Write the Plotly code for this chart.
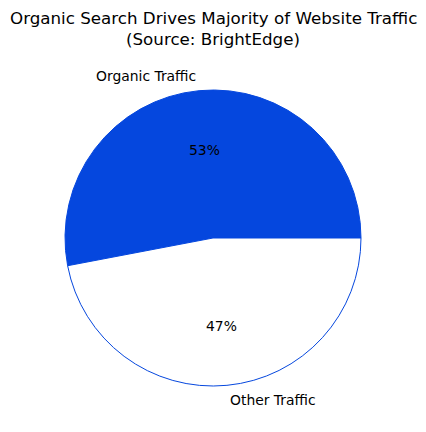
import numpy as np
import plotly.graph_objects as go

# data
labels = ["Organic Traffic", "Other Traffic"]
shares = [53, 47]
colors = ["#0547DE", "#FFFFFF"]
edge_color = "#0547DE"
title_lines = ["Organic Search Drives Majority of Website Traffic", "(Source: BrightEdge)"]

W, H = 426, 432
cx, cy, r = 213, 238, 148   # pie centre / radius in pixels

total = sum(shares)
# plotly's counterclockwise pie ends the first slice at `rotation`,
# so shift it to make the first slice start at 3 o'clock like matplotlib
rot = 90 - 360 * shares[0] / total

fig = go.Figure(go.Pie(
    labels=labels,
    values=shares,
    sort=False,
    direction="counterclockwise",
    rotation=rot,
    marker=dict(colors=colors, line=dict(color=edge_color, width=1)),
    textinfo="none",
    hoverinfo="label+percent",
    showlegend=False,
    domain=dict(x=[(cx - r) / W, (cx + r) / W],
                y=[1 - (cy + r) / H, 1 - (cy - r) / H]),
))

# labels and percentages, placed like matplotlib (1.1 and 0.6 radius)
start = 0.0
annotations = []
for lab, v in zip(labels, shares):
    theta = np.deg2rad(start + 360 * v / total / 2)
    start += 360 * v / total
    dx, dy = np.cos(theta), np.sin(theta)
    annotations.append(dict(
        x=(cx + 1.1 * r * dx) / W, y=1 - (cy - 1.1 * r * dy) / H,
        xref="paper", yref="paper", text=lab, showarrow=False,
        xanchor="right" if dx < 0 else "left", yanchor="middle",
        font=dict(size=13.9)))
    annotations.append(dict(
        x=(cx + 0.6 * r * dx) / W, y=1 - (cy - 0.6 * r * dy) / H,
        xref="paper", yref="paper", text=f"{v / total * 100:.0f}%",
        showarrow=False, xanchor="center", yanchor="middle",
        font=dict(size=13.9)))

# two-line title, matplotlib line spacing
for i, line in enumerate(title_lines):
    annotations.append(dict(
        x=0.5, y=1 - (18 + 21 * i) / H, xref="paper", yref="paper",
        text=line, showarrow=False, xanchor="center", yanchor="middle",
        font=dict(size=16.7)))

fig.update_layout(
    width=W, height=H,
    margin=dict(l=0, r=0, t=0, b=0),
    paper_bgcolor="white",
    font=dict(family="DejaVu Sans", color="black"),
    annotations=annotations,
)

fig.write_html("out.html", config={"displayModeBar": False},
               post_script="document.body.style.margin = '0';")
